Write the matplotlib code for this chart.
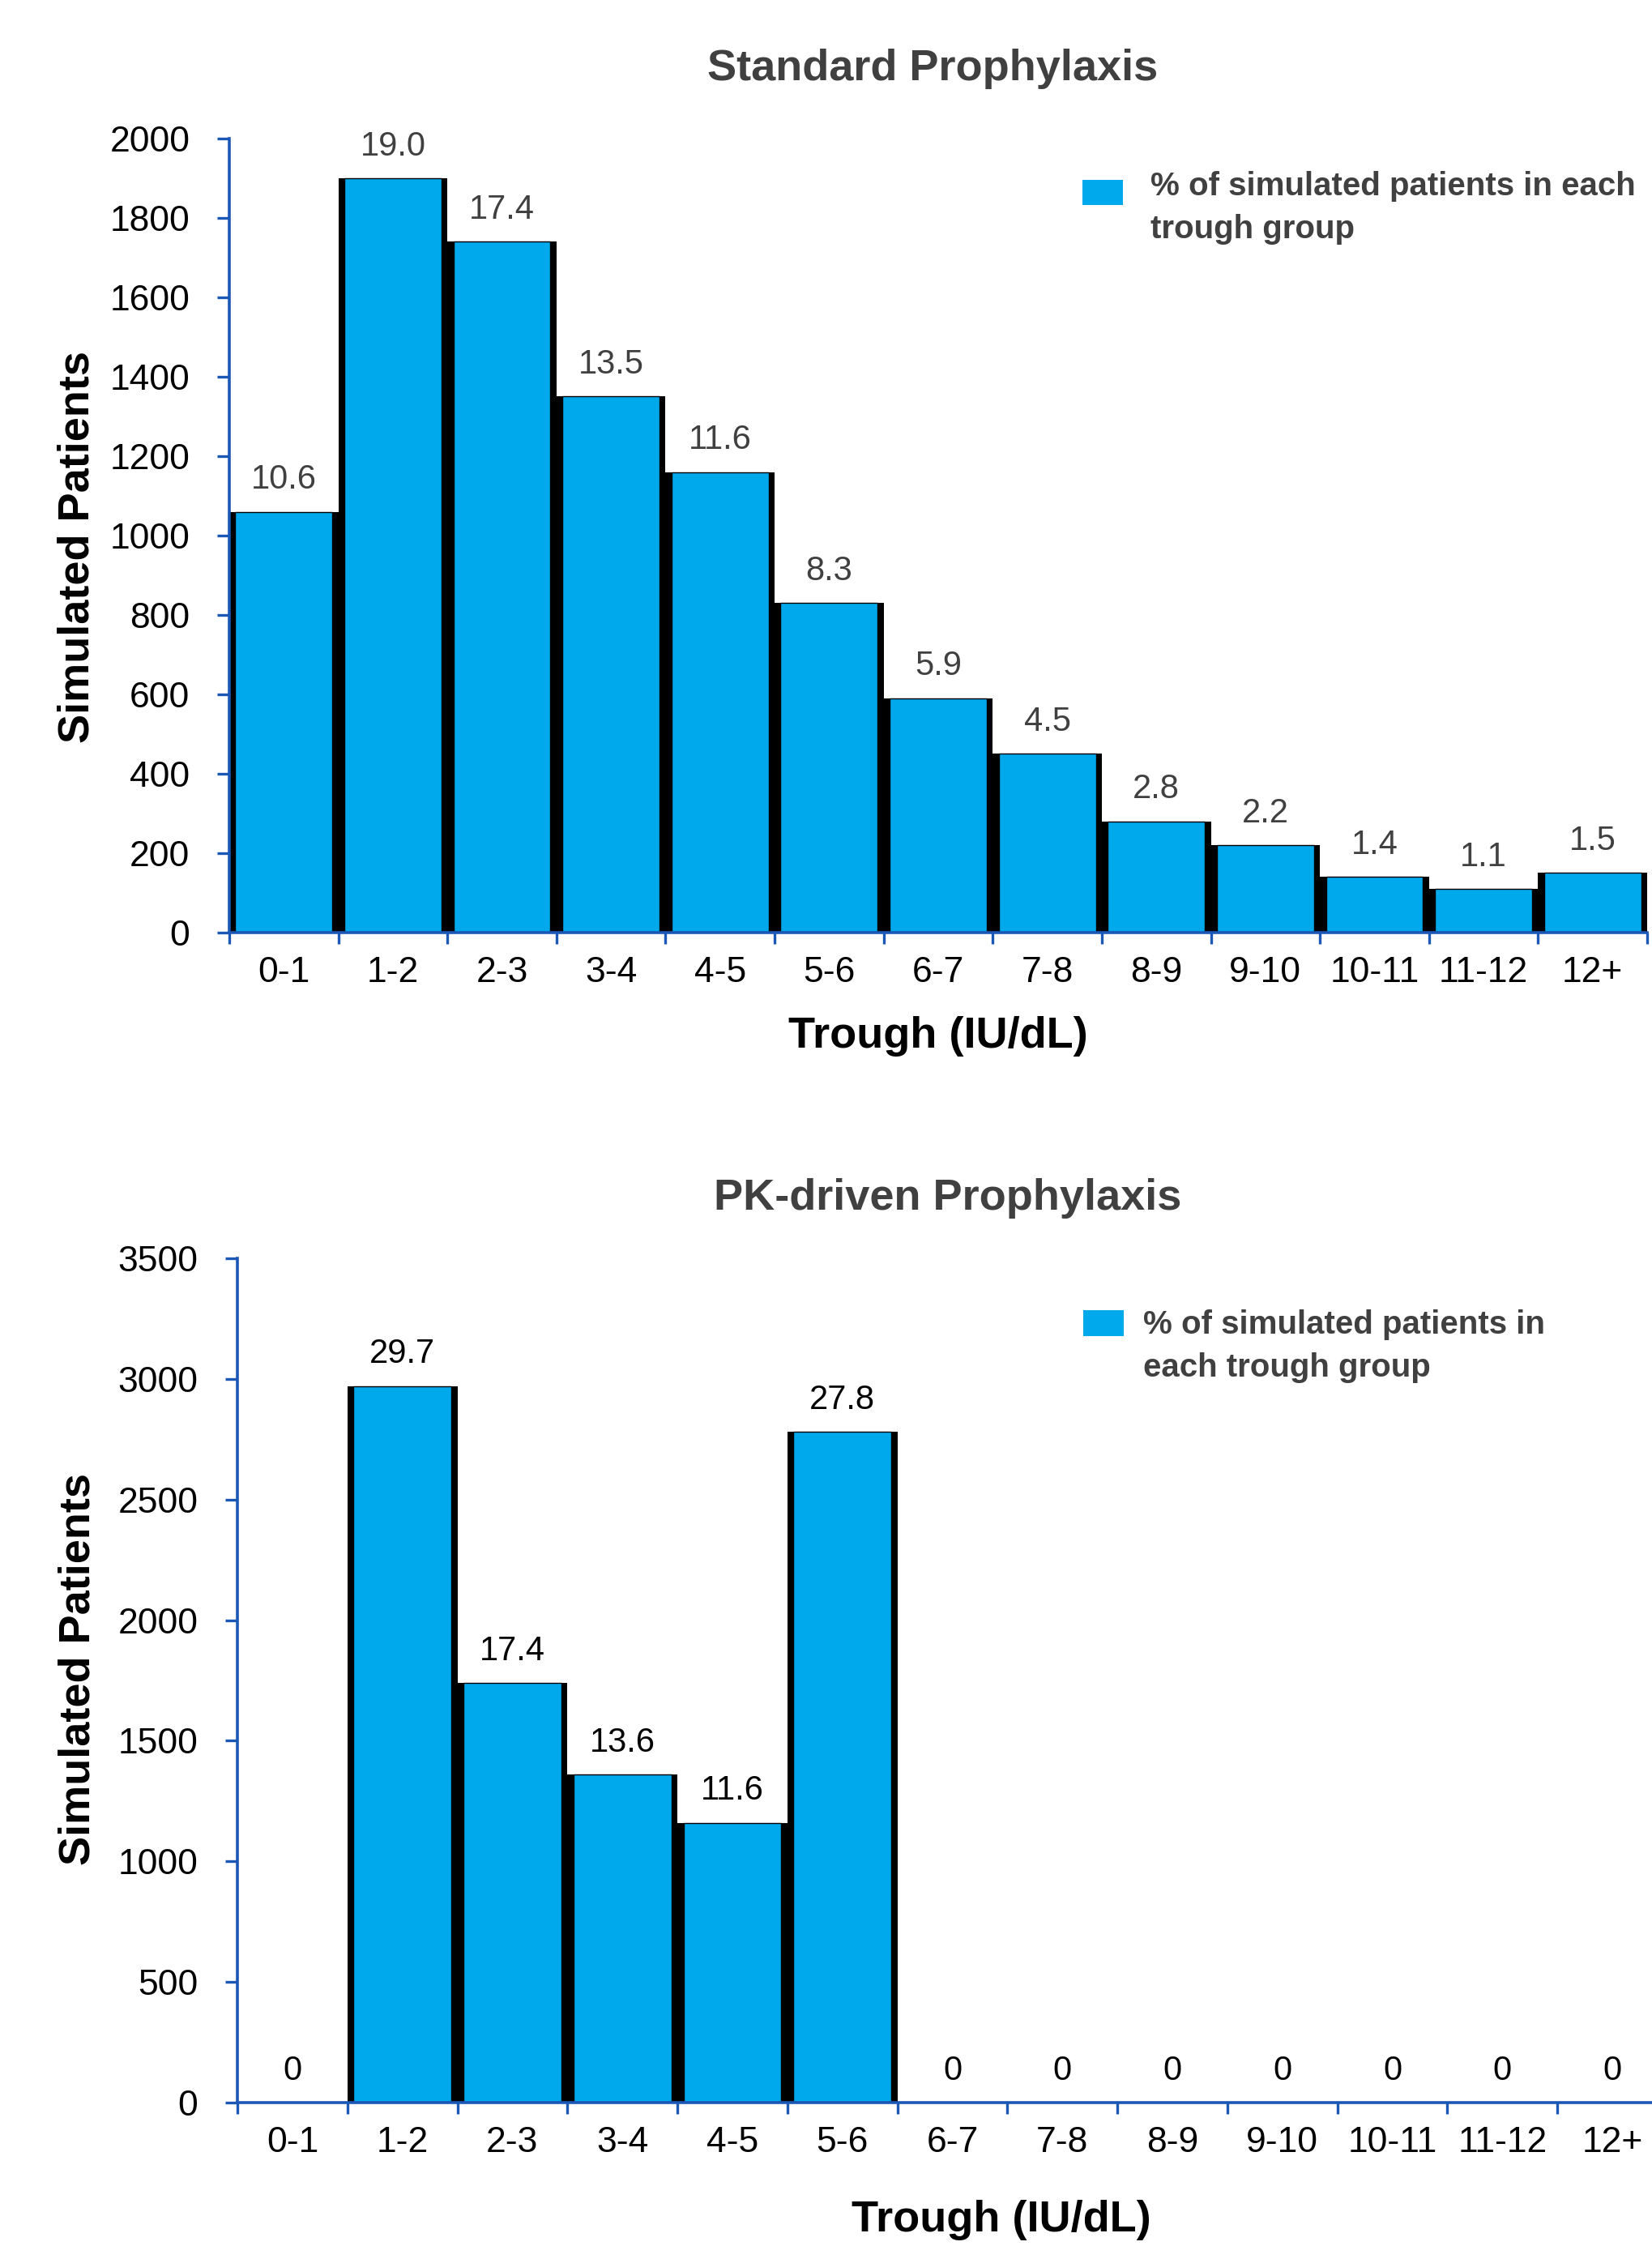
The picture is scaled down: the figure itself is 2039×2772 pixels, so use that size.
import matplotlib.pyplot as plt
from matplotlib.patches import Rectangle

groups = ["0-1", "1-2", "2-3", "3-4", "4-5", "5-6", "6-7", "7-8", "8-9", "9-10", "10-11", "11-12", "12+"]

# standard prophylaxis: patients per trough group and % labels
std_patients = [1060, 1900, 1740, 1350, 1160, 830, 590, 450, 280, 220, 140, 110, 150]
std_pct = ["10.6", "19.0", "17.4", "13.5", "11.6", "8.3", "5.9", "4.5", "2.8", "2.2", "1.4", "1.1", "1.5"]

# PK-driven prophylaxis
pk_patients = [0, 2970, 1740, 1360, 1160, 2780, 0, 0, 0, 0, 0, 0, 0]
pk_pct = ["0", "29.7", "17.4", "13.6", "11.6", "27.8", "0", "0", "0", "0", "0", "0", "0"]

FONT = ['Liberation Sans', 'DejaVu Sans']
BAR = '#00A9EC'
AXIS = '#1B57B5'
GREY = '#404040'

plt.rcParams['font.family'] = FONT

W, H = 2040, 2772
fig = plt.figure(figsize=(W / 100, H / 100), dpi=100)


def px(x0, y0, x1, y1):
    # pixel box (top-left origin) -> figure fraction rect
    return [x0 / W, 1 - y1 / H, (x1 - x0) / W, (y1 - y0) / H]


def draw(ax, vals, labels, ymax, ystep, lab_color):
    x = list(range(len(groups)))
    ax.bar(x, vals, width=1.0, color='black', zorder=1.5)
    bars = ax.bar(x, vals, width=0.89, color=BAR, edgecolor='black', linewidth=1, zorder=1.6)
    ax.bar_label(bars, labels=labels, padding=14, fontsize=30, color=lab_color)

    ax.set_xlim(-0.5, len(groups) - 0.5)
    ax.set_ylim(0, ymax)
    ax.set_yticks(range(0, ymax + 1, ystep))
    ax.set_xticks(x, groups)
    ax.set_xticks([i - 0.5 for i in range(len(groups) + 1)], minor=True)

    for s in ['top', 'right']:
        ax.spines[s].set_visible(False)
    for s in ['left', 'bottom']:
        ax.spines[s].set_color(AXIS)
        ax.spines[s].set_linewidth(2.6)

    ax.tick_params(axis='x', which='major', length=0, pad=21, labelsize=32)
    ax.tick_params(axis='x', which='minor', length=10, width=2.4, color=AXIS)
    ax.tick_params(axis='y', length=11, width=2.4, color=AXIS, pad=24, labelsize=32)

    ax.set_ylabel('Simulated Patients', fontsize=39, fontweight='bold')
    ax.set_xlabel('Trough (IU/dL)', fontsize=39, fontweight='bold')


# top chart
ax1 = fig.add_axes(px(283, 171, 2033, 1151))
draw(ax1, std_patients, std_pct, 2000, 200, GREY)
ax1.yaxis.set_label_coords(-0.093, 0.486)
ax1.xaxis.set_label_coords(0.5, -0.105)
fig.text(1151 / W, 1 - 85 / H, 'Standard Prophylaxis', fontsize=39, fontweight='bold',
         color=GREY, ha='center', va='center')

fig.add_artist(Rectangle((1336 / W, 1 - 253 / H), 50 / W, 31 / H, transform=fig.transFigure,
                         facecolor=BAR, edgecolor='none'))
fig.text(1420 / W, 1 - 211 / H, '% of simulated patients in each\ntrough group',
         fontsize=29, fontweight='bold', color=GREY, va='top', ha='left', linespacing=1.5)

# bottom chart
ax2 = fig.add_axes(px(293, 1553, 2058, 2595))
draw(ax2, pk_patients, pk_pct, 3500, 500, 'black')
ax2.yaxis.set_label_coords(-0.097, 0.513)
ax2.xaxis.set_label_coords(0.534, -0.115)
fig.text(1170 / W, 1 - 1479 / H, 'PK-driven Prophylaxis', fontsize=39, fontweight='bold',
         color=GREY, ha='center', va='center')

fig.add_artist(Rectangle((1337 / W, 1 - 1649 / H), 50 / W, 32 / H, transform=fig.transFigure,
                         facecolor=BAR, edgecolor='none'))
fig.text(1411 / W, 1 - 1616 / H, '% of simulated patients in\neach trough group',
         fontsize=29, fontweight='bold', color=GREY, va='top', ha='left', linespacing=1.5)

fig.savefig('out.png', dpi=100)
